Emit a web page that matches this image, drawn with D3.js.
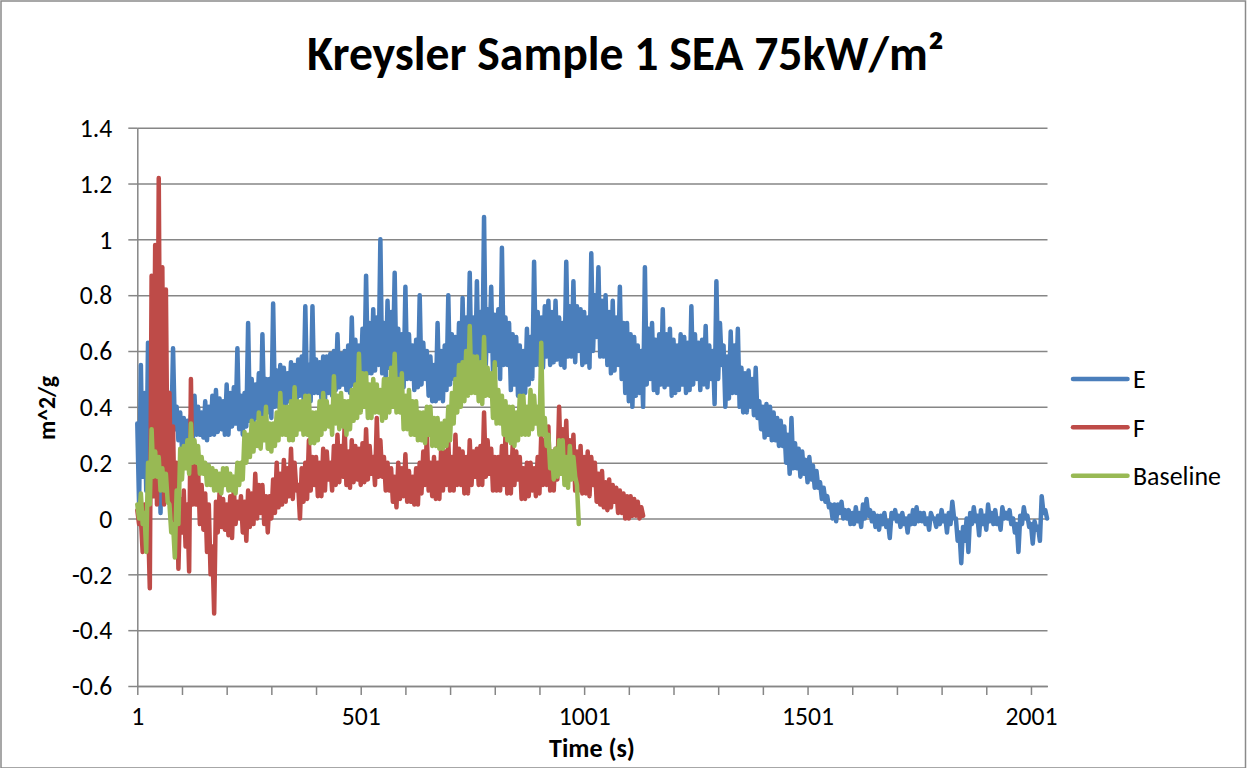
<!DOCTYPE html>
<html><head><meta charset="utf-8">
<script src="https://cdn.jsdelivr.net/npm/d3@7"></script>
<style>body{margin:0;background:#fff} svg{display:block}</style>
</head><body>
<svg id="c" width="1247" height="768"></svg>
<script>
const chartTitle = "Kreysler Sample 1 SEA 75kW/m²";
const xTitle = "Time (s)";
const yTitle = "m^2/g";
const seriesNames = ["E", "F", "Baseline"];
const seriesColors = ["#4A7EBB", "#BE4B48", "#98B954"];
const sampleStep = 4; // seconds between listed samples (first sample at t = 1)
const xMinorTicks = d3.range(1, 2002, 100);
const xTickLabels = [1, 501, 1001, 1501, 2001];
const yTicks = [-0.6, -0.4, -0.2, 0, 0.2, 0.4, 0.6, 0.8, 1, 1.2, 1.4];
const yTickLabels = ["-0.6", "-0.4", "-0.2", "0", "0.2", "0.4", "0.6", "0.8", "1", "1.2", "1.4"];

const E = [
0.34,0.05, 0.55,0.15, 0.45,0.10, 0.63,0.20, 0.52,0.25, 0.50,0.18, 0.40,0.02, 0.45,0.28, 0.42,0.30, 0.45,0.30,
0.61,0.32, 0.40,0.28, 0.38,0.25, 0.36,0.26, 0.35,0.27, 0.37,0.28, 0.44,0.30, 0.40,0.30, 0.38,0.29, 0.42,0.28,
0.40,0.30, 0.44,0.30, 0.46,0.31, 0.43,0.32, 0.42,0.30, 0.48,0.30, 0.45,0.33, 0.47,0.34, 0.61,0.32, 0.44,0.30,
0.45,0.33, 0.70,0.35, 0.50,0.34, 0.48,0.36, 0.52,0.35, 0.66,0.37, 0.50,0.38, 0.50,0.36, 0.77,0.40, 0.53,0.40,
0.55,0.41, 0.54,0.40, 0.52,0.42, 0.56,0.42, 0.55,0.40, 0.57,0.44, 0.58,0.43, 0.76,0.44, 0.55,0.42, 0.76,0.45,
0.57,0.45, 0.56,0.43, 0.58,0.42, 0.58,0.45, 0.59,0.44, 0.60,0.46, 0.66,0.47, 0.59,0.48, 0.60,0.46, 0.62,0.45,
0.72,0.48, 0.64,0.48, 0.62,0.50, 0.68,0.50, 0.87,0.52, 0.70,0.52, 0.75,0.53, 0.72,0.55, 1.00,0.52, 0.70,0.50,
0.78,0.54, 0.74,0.55, 0.88,0.50, 0.68,0.48, 0.66,0.47, 0.83,0.50, 0.66,0.50, 0.62,0.46, 0.64,0.47, 0.80,0.48,
0.63,0.50, 0.60,0.44, 0.58,0.42, 0.55,0.42, 0.70,0.43, 0.60,0.42, 0.62,0.46, 0.80,0.48, 0.66,0.50, 0.65,0.47,
0.70,0.48, 0.79,0.50, 0.72,0.55, 0.88,0.50, 0.72,0.50, 0.85,0.52, 0.74,0.52, 1.08,0.55, 0.75,0.60, 0.83,0.52,
0.73,0.55, 0.75,0.50, 0.97,0.55, 0.72,0.55, 0.70,0.46, 0.66,0.48, 0.65,0.44, 0.62,0.42, 0.60,0.45, 0.68,0.48,
0.65,0.50, 0.92,0.55, 0.74,0.55, 0.72,0.54, 0.76,0.58, 0.78,0.55, 0.74,0.56, 0.78,0.57, 0.72,0.55, 0.70,0.54,
0.92,0.58, 0.76,0.58, 0.85,0.56, 0.76,0.60, 0.75,0.55, 0.74,0.56, 0.72,0.54, 0.95,0.60, 0.80,0.65, 0.90,0.58,
0.78,0.58, 0.80,0.55, 0.74,0.52, 0.78,0.53, 0.72,0.55, 0.83,0.50, 0.70,0.45, 0.70,0.42, 0.66,0.40, 0.65,0.44,
0.62,0.45, 0.60,0.40, 0.90,0.48, 0.68,0.50, 0.70,0.46, 0.64,0.45, 0.66,0.48, 0.75,0.47, 0.66,0.48, 0.68,0.44,
0.64,0.45, 0.62,0.46, 0.66,0.48, 0.65,0.45, 0.63,0.46, 0.76,0.48, 0.66,0.50, 0.63,0.46, 0.64,0.48, 0.69,0.47,
0.62,0.50, 0.60,0.41, 0.85,0.50, 0.70,0.55, 0.62,0.40, 0.58,0.43, 0.67,0.45, 0.62,0.45, 0.68,0.40, 0.54,0.38,
0.52,0.38, 0.53,0.40, 0.50,0.37, 0.54,0.36, 0.42,0.32, 0.40,0.29, 0.41,0.30, 0.40,0.28, 0.38,0.28, 0.36,0.26,
0.35,0.26, 0.33,0.20, 0.30,0.16, 0.36,0.18, 0.27,0.18, 0.25,0.15, 0.24,0.16, 0.21,0.13, 0.22,0.14, 0.19,0.11,
0.17,0.11, 0.13,0.07, 0.11,0.06, 0.08,0.04, 0.05,0.00, 0.05,-0.01, 0.05,0.02, 0.06,0.00, 0.03,0.00, 0.03,-0.02,
0.02,-0.02, 0.04,-0.01, 0.02,-0.03, 0.05,0.00, 0.07,0.01, 0.03,-0.01, 0.02,-0.03, 0.01,-0.04, 0.01,-0.02, 0.02,-0.03,
-0.01,-0.07, 0.02,0.00, 0.03,-0.01, 0.01,-0.03, 0.02,-0.02, 0.00,-0.05, 0.01,-0.02, 0.03,-0.02, 0.04,-0.01, 0.02,-0.01,
0.02,-0.02, 0.00,-0.04, 0.02,0.00, 0.00,-0.03, 0.01,-0.02, 0.03,-0.01, 0.01,-0.05, 0.02,-0.02, 0.06,0.00, 0.00,-0.08,
-0.05,-0.16, -0.03,-0.08, 0.00,-0.12, 0.02,-0.02, 0.04,-0.01, 0.01,-0.06, 0.03,-0.02, 0.01,-0.04, 0.05,-0.01, 0.02,-0.02,
0.03,-0.02, 0.00,-0.04, 0.04,0.00, 0.02,0.00, 0.03,-0.02, 0.00,-0.05, -0.02,-0.12, 0.01,-0.02, 0.04,0.00, 0.01,-0.03,
-0.02,-0.09, -0.01,-0.04, -0.03,-0.08, 0.08,0.02, 0.03,0.00
];

const F = [
0.03,-0.02, 0.00,-0.12, 0.05,-0.05, 0.00,-0.25, 0.87,0.08, 0.98,0.05, 1.22,0.15, 0.90,0.05, 0.82,0.10, 0.45,0.00,
0.33,-0.05, 0.20,-0.18, 0.07,-0.05, 0.10,-0.10, 0.05,-0.19, 0.50,0.05, 0.25,0.05, 0.18,-0.02, 0.12,-0.04, 0.09,-0.12,
0.05,-0.20, -0.10,-0.34, 0.06,-0.05, 0.09,-0.03, 0.07,-0.04, 0.05,-0.06, 0.08,-0.07, 0.11,-0.02, 0.06,0.00, 0.08,-0.05,
0.06,-0.08, 0.10,-0.03, 0.09,-0.02, 0.16,0.00, 0.12,0.02, 0.12,-0.02, 0.08,-0.05, 0.08,0.00, 0.14,0.02, 0.20,0.04,
0.16,0.05, 0.21,0.06, 0.18,0.08, 0.25,0.07, 0.20,0.10, 0.12,0.00, 0.18,0.06, 0.20,0.07, 0.28,0.10, 0.22,0.12,
0.22,0.08, 0.20,0.08, 0.25,0.10, 0.24,0.14, 0.20,0.10, 0.26,0.12, 0.30,0.13, 0.26,0.15, 0.33,0.12, 0.24,0.11,
0.28,0.13, 0.26,0.14, 0.25,0.12, 0.27,0.13, 0.32,0.14, 0.26,0.16, 0.22,0.12, 0.36,0.15, 0.28,0.15, 0.22,0.10,
0.20,0.10, 0.18,0.06, 0.15,0.04, 0.20,0.07, 0.18,0.08, 0.23,0.06, 0.17,0.06, 0.15,0.05, 0.18,0.05, 0.20,0.09,
0.24,0.12, 0.30,0.10, 0.20,0.08, 0.22,0.07, 0.20,0.07, 0.25,0.10, 0.24,0.12, 0.28,0.10, 0.22,0.10, 0.30,0.12,
0.25,0.12, 0.24,0.09, 0.22,0.09, 0.28,0.12, 0.24,0.15, 0.25,0.12, 0.26,0.12, 0.38,0.15, 0.28,0.16, 0.25,0.10,
0.22,0.10, 0.22,0.10, 0.26,0.12, 0.30,0.09, 0.22,0.09, 0.26,0.12, 0.24,0.14, 0.22,0.07, 0.18,0.07, 0.20,0.08,
0.20,0.10, 0.18,0.08, 0.22,0.09, 0.30,0.12, 0.28,0.12, 0.33,0.10, 0.24,0.10, 0.25,0.14, 0.40,0.18, 0.32,0.20,
0.35,0.14, 0.28,0.15, 0.30,0.10, 0.24,0.10, 0.26,0.09, 0.22,0.09, 0.24,0.08, 0.22,0.12, 0.20,0.06, 0.16,0.05,
0.17,0.04, 0.13,0.03, 0.14,0.04, 0.12,0.06, 0.11,0.02, 0.10,0.02, 0.09,0.00, 0.08,0.00, 0.08,0.01, 0.07,0.01,
0.06,0.00, 0.04,0.01
];

const Baseline = [
0.05,0.00, 0.09,-0.02, 0.02,-0.12, 0.20,0.05, 0.32,0.15, 0.24,0.15, 0.22,0.10, 0.18,0.10, 0.16,0.06, 0.05,-0.05,
-0.02,-0.14, 0.10,-0.02, 0.25,0.14, 0.26,0.18, 0.28,0.16, 0.34,0.20, 0.28,0.20, 0.26,0.16, 0.22,0.16, 0.20,0.12,
0.19,0.12, 0.18,0.10, 0.17,0.10, 0.16,0.09, 0.18,0.12, 0.18,0.10, 0.16,0.10, 0.15,0.09, 0.20,0.12, 0.20,0.14,
0.31,0.20, 0.30,0.22, 0.35,0.24, 0.34,0.26, 0.38,0.25, 0.36,0.28, 0.40,0.25, 0.34,0.24, 0.34,0.26, 0.38,0.28,
0.45,0.30, 0.40,0.30, 0.40,0.28, 0.42,0.28, 0.47,0.30, 0.42,0.32, 0.42,0.30, 0.44,0.30, 0.44,0.27, 0.38,0.27,
0.38,0.28, 0.42,0.30, 0.45,0.32, 0.42,0.33, 0.40,0.30, 0.51,0.34, 0.44,0.32, 0.45,0.33, 0.42,0.30, 0.42,0.32,
0.46,0.35, 0.48,0.36, 0.59,0.38, 0.52,0.40, 0.52,0.36, 0.48,0.36, 0.50,0.38, 0.48,0.38, 0.46,0.35, 0.50,0.36,
0.50,0.38, 0.54,0.40, 0.59,0.38, 0.50,0.38, 0.52,0.32, 0.44,0.32, 0.46,0.30, 0.42,0.30, 0.42,0.28, 0.38,0.28,
0.38,0.27, 0.40,0.30, 0.40,0.26, 0.36,0.26, 0.36,0.25, 0.34,0.25, 0.35,0.26, 0.40,0.28, 0.45,0.34, 0.50,0.38,
0.55,0.40, 0.56,0.42, 0.60,0.44, 0.69,0.45, 0.58,0.45, 0.58,0.42, 0.56,0.41, 0.65,0.44, 0.54,0.44, 0.52,0.36,
0.56,0.34, 0.46,0.34, 0.44,0.30, 0.42,0.28, 0.40,0.27, 0.40,0.26, 0.38,0.28, 0.44,0.30, 0.44,0.30, 0.40,0.30,
0.46,0.32, 0.44,0.34, 0.40,0.30, 0.63,0.30, 0.36,0.26, 0.30,0.18, 0.24,0.14, 0.25,0.15, 0.28,0.16, 0.28,0.12,
0.22,0.11, 0.26,0.14, 0.22,0.15, 0.12,-0.02
];

const seriesData = [E, F, Baseline];

const W = 1247, H = 768;
const plot = {left: 137.3, right: 1047.5, top: 127.7, bottom: 686};
const FONT = "Calibri, Carlito, Lato, sans-serif";
const GRID = "#868686";

const svg = d3.select("#c");

// chart border
svg.append("rect").attr("x", 1).attr("y", 1).attr("width", W - 2.5).attr("height", H - 1)
  .attr("fill", "#fff").attr("stroke", "#8a8a8a").attr("stroke-width", 1.5);

const x = d3.scaleLinear().domain([1, 2038]).range([plot.left, plot.right]);
const y = d3.scaleLinear().domain([-0.6, 1.4]).range([plot.bottom, plot.top]);

function fitWidth(sel, target) {
  const w = sel.node().getComputedTextLength();
  const fs = parseFloat(sel.attr("font-size"));
  if (w > 0) sel.attr("font-size", fs * target / w);
  return parseFloat(sel.attr("font-size"));
}

const probe = svg.append("text").attr("font-family", FONT).attr("font-size", 20).text("1001");
const tickFs = fitWidth(probe, 52);
probe.remove();

// gridlines
const grid = svg.append("g").attr("transform", `translate(${plot.left},0)`)
  .call(d3.axisLeft(y).tickValues(yTicks).tickSize(-(plot.right - plot.left)).tickFormat(""));
grid.select(".domain").remove();
grid.selectAll("line").attr("stroke", GRID).attr("stroke-width", 1.5);

// y axis
const yAxis = svg.append("g").attr("transform", `translate(${plot.left},0)`)
  .call(d3.axisLeft(y).tickValues(yTicks).tickFormat((d, i) => yTickLabels[i])
    .tickSize(9).tickSizeOuter(0).tickPadding(16));
yAxis.select(".domain").attr("stroke", GRID).attr("stroke-width", 1.5);
yAxis.selectAll("line").attr("stroke", GRID).attr("stroke-width", 1.5);
yAxis.selectAll("text").attr("font-family", FONT).attr("font-size", tickFs).attr("fill", "#000").attr("dy", "0.34em");

// x axis
const xAxis = svg.append("g").attr("transform", `translate(0,${plot.bottom})`)
  .call(d3.axisBottom(x).tickValues(xMinorTicks)
    .tickFormat(d => xTickLabels.includes(d) ? String(d) : "")
    .tickSize(9).tickSizeOuter(0).tickPadding(12));
xAxis.select(".domain").attr("stroke", GRID).attr("stroke-width", 1.5);
xAxis.selectAll("line").attr("stroke", GRID).attr("stroke-width", 1.5);
xAxis.selectAll("text").attr("font-family", FONT).attr("font-size", tickFs).attr("fill", "#000");

// series lines
const line = d3.line()
  .x((d, i) => x(1 + i * sampleStep))
  .y(d => y(d));
seriesData.forEach((s, k) => {
  svg.append("path").datum(s)
    .attr("d", line)
    .attr("fill", "none")
    .attr("stroke", seriesColors[k])
    .attr("stroke-width", 4.5)
    .attr("stroke-linejoin", "round")
    .attr("stroke-linecap", "round");
});

// title
const t = svg.append("text").attr("x", 625.5).attr("y", 70).attr("text-anchor", "middle")
  .attr("font-family", FONT).attr("font-weight", "bold").attr("font-size", 40).text(chartTitle);
fitWidth(t, 637);

// axis titles
const xt = svg.append("text").attr("x", 592).attr("y", 757).attr("text-anchor", "middle")
  .attr("font-family", FONT).attr("font-weight", "bold").attr("font-size", 22).text(xTitle);
fitWidth(xt, 86);
const yt = svg.append("text").attr("transform", "translate(55,408) rotate(-90)").attr("text-anchor", "middle")
  .attr("font-family", FONT).attr("font-weight", "bold").attr("font-size", 22).text(yTitle);
fitWidth(yt, 64);

// legend
const legY = [379, 427.3, 475.7];
const leg = svg.append("g");
const lp = leg.append("text").attr("font-family", FONT).attr("font-size", 22).text("Baseline");
const legFs = fitWidth(lp, 88);
lp.remove();
seriesNames.forEach((n, k) => {
  leg.append("line").attr("x1", 1073).attr("x2", 1127.5).attr("y1", legY[k]).attr("y2", legY[k])
    .attr("stroke", seriesColors[k]).attr("stroke-width", 4.5).attr("stroke-linecap", "round");
  leg.append("text").attr("x", 1133).attr("y", legY[k] + legFs * 0.36)
    .attr("font-family", FONT).attr("font-size", legFs).attr("fill", "#000").text(n);
});
</script>
</body></html>
